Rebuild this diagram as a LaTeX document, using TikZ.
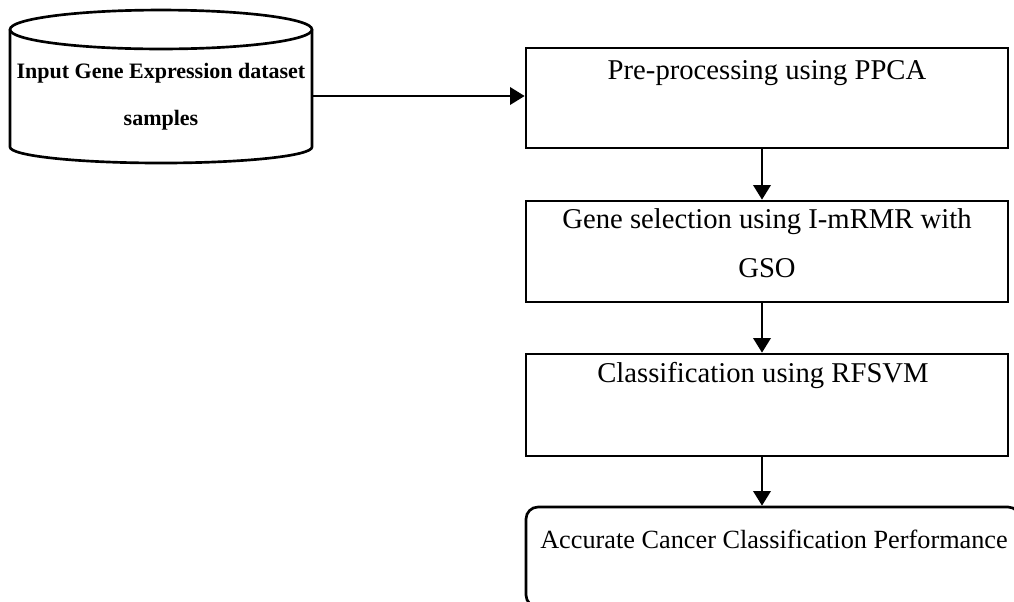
\documentclass[tikz,border=0pt]{standalone}
\usepackage{fontspec}
\setmainfont{Liberation Serif}
\usetikzlibrary{arrows.meta}
\begin{document}
\begin{tikzpicture}[x=0.75pt,y=-0.75pt,
  boxnode/.style={draw,line width=2pt,minimum width=361.5pt,inner sep=0pt},
  txt/.style={font=\fontsize{21.5}{24}\selectfont,inner sep=0pt},
  endtxt/.style={font=\fontsize{19.7}{22}\selectfont,inner sep=0pt},
  dbtxt/.style={font=\fontsize{16.5}{19}\selectfont\bfseries,inner sep=0pt},
  arr/.style={line width=2pt,-{Triangle[length=11pt,width=13pt]}}]
\useasboundingbox (0,0) rectangle (1014,601);
% cylinder
\draw[line width=2pt] (161,29.5) ellipse [x radius=113.25pt, y radius=14.6pt];
\draw[line width=2pt] (10,29.5) -- (10,147) arc[start angle=180,end angle=360,x radius=113.25pt,y radius=12pt] -- (312,29.5);
\node[minimum width=226.5pt,minimum height=10pt,inner sep=0pt] (db) at (161,96) {};
\node[dbtxt] (dbt1) at (161,73) {Input Gene Expression dataset};
\node[dbtxt] (dbt2) at (161,120) {samples};
% boxes
\node[boxnode,minimum height=75pt] (b1) at (767,98) {};
\node[txt] (t1) at (767,73) {Pre-processing using PPCA};
\node[boxnode,minimum height=75.75pt] (b2) at (767,251.5) {};
\node[txt] (t2a) at (767,222) {Gene selection using I-mRMR with};
\node[txt] (t2b) at (767,268) {GSO};
\node[boxnode,minimum height=76.5pt] (b3) at (767,405) {};
\node[txt] (t3) at (763,375) {Classification using RFSVM};
\node[draw,line width=2pt,rounded corners=9pt,minimum width=370.5pt,minimum height=75pt,inner sep=0pt] (b4) at (773,557) {};
\node[endtxt] (t4) at (774,539) {Accurate Cancer Classification Performance};
% arrows
\draw[arr] (db.east) -- (db.east -| b1.west);
\draw[arr] ([xshift=-3.75pt]b1.south) -- ([xshift=-3.75pt]b2.north);
\draw[arr] ([xshift=-3.75pt]b2.south) -- ([xshift=-3.75pt]b3.north);
\draw[arr] ([xshift=-3.75pt]b3.south) -- ([xshift=-3.75pt]b3.south |- b4.north);
\end{tikzpicture}
\end{document}
